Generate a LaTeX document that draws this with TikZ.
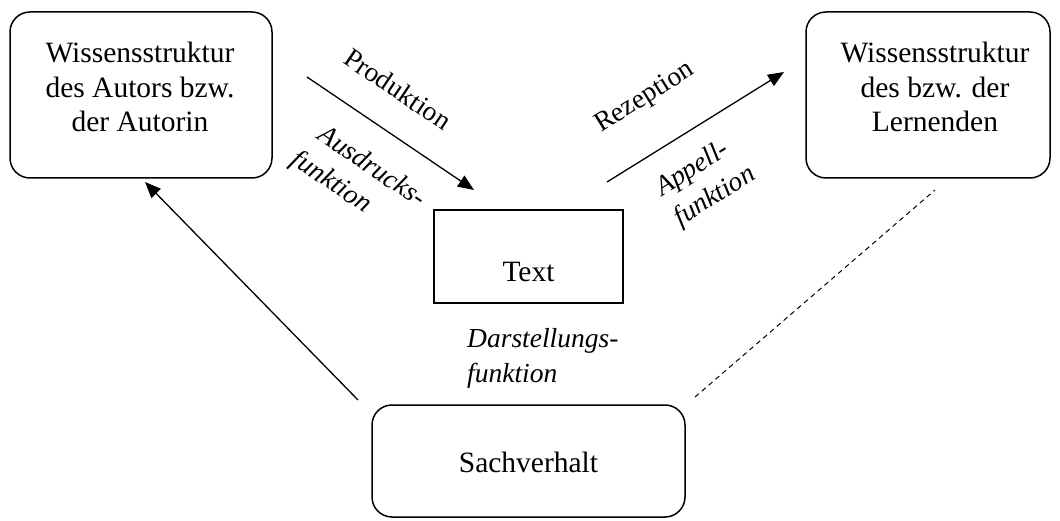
\documentclass[tikz,border=0pt]{standalone}
\usepackage{fontspec}
\setmainfont{Liberation Serif}
\usetikzlibrary{arrows.meta}
\tikzset{
  roundbox/.style={draw, line width=1.5pt, rounded corners=20pt, inner sep=0pt},
  plainbox/.style={draw, line width=1.5pt, inner sep=0pt},
  boxtext/.style={font=\fontsize{29.5}{34.5}\selectfont, inner sep=0pt, align=center},
  label/.style={font=\fontsize{27.5}{34}\selectfont, inner sep=0pt},
  fnlabel/.style={font=\fontsize{27.5}{35}\selectfont\itshape, inner sep=0pt, align=left},
  flow/.style={line width=1.3pt, -{Triangle[length=16pt,width=13pt]}},
  relation/.style={line width=1pt, dash pattern=on 5pt off 4pt}
}
\begin{document}
\begin{tikzpicture}[x=1pt,y=-1pt]
  \useasboundingbox (0,0) rectangle (1060,521);

  % knowledge structures and subject matter
  \node[roundbox, minimum width=262pt, minimum height=166pt] (author) at (141,95) {};
  \node[boxtext] (authortxt) at (140,87) {Wissensstruktur\\des Autors bzw.\\der Autorin};
  \node[roundbox, minimum width=244pt, minimum height=166pt] (learner) at (928,95) {};
  \node[boxtext] (learnertxt) at (935,87) {Wissensstruktur\\des bzw. der\\Lernenden};
  \node[roundbox, minimum width=313pt, minimum height=112pt] (fact) at (528.5,461) {};
  \node[boxtext] (facttxt) at (528.5,462) {Sachverhalt};

  % the text itself
  \node[plainbox, minimum width=189pt, minimum height=93pt] (text) at (528.5,256.5) {};
  \node[boxtext] (textlbl) at (528.5,272) {Text};

  % connector end points
  \coordinate (prodA) at (307,77);
  \coordinate (prodB) at (474,190);
  \coordinate (rezA) at (607,182);
  \coordinate (rezB) at (784,72);
  \coordinate (factA) at (358,400);
  \coordinate (factB) at (145,182);
  \coordinate (dashA) at (695,397);
  \coordinate (dashB) at (935,190);

  \draw[flow] (prodA) -- (prodB);
  \draw[flow] (rezA) -- (rezB);
  \draw[flow] (factA) -- (factB);
  \draw[relation] (dashA) -- (dashB);

  % labels of the processes and functions
  \node[label, rotate=-34] (prodlbl) at (398,89) {Produktion};
  \node[fnlabel, rotate=-34] (ausdr) at (358,180) {\hspace*{8pt}Ausdrucks-\\funktion};
  \node[label, rotate=32] (rezlbl) at (645,98) {Rezeption};
  \node[fnlabel, rotate=32] (appell) at (706,182) {Appell-\\funktion};
  \node[fnlabel, anchor=north west] (darst) at (467,328) {Darstellungs-\\funktion};
\end{tikzpicture}
\end{document}
